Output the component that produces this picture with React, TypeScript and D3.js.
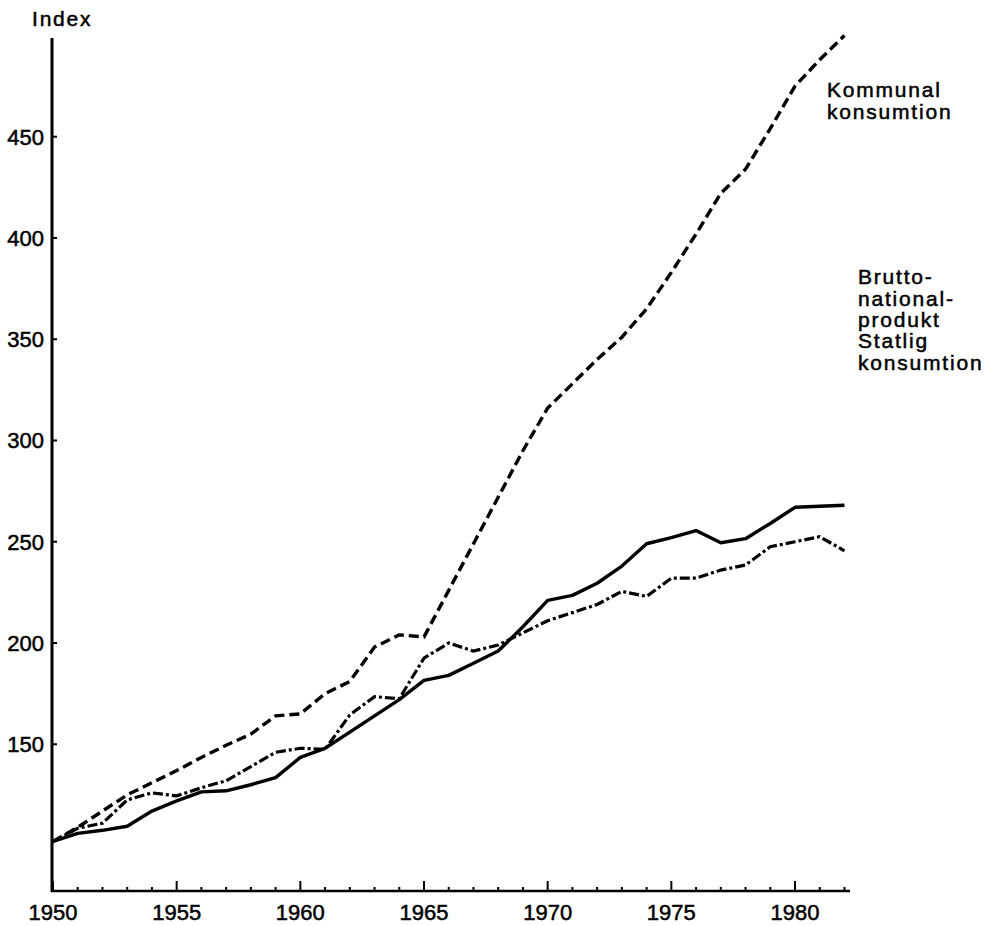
import * as d3 from "d3";
import React from "react";

const W = 1002;
const H = 926;

const years = d3.range(1950, 1983);

// index values (1950 start)
const kommunal = [102, 109, 117, 125, 131, 137, 143.5, 149.5, 155, 164, 165, 175, 181, 198, 204, 203, 226, 249, 272, 295, 316, 328, 340, 351, 365, 383, 402, 422, 434, 454, 475, 488, 500];
const bnp = [102, 106, 107.5, 109.5, 117, 122, 126.5, 127, 130, 133.5, 143.5, 148, 156, 164, 172, 181.5, 184, 190, 196, 208, 221, 223.5, 229.5, 238, 249, 252, 255.5, 249.5, 251.5, 259, 267, 267.5, 268];
const statlig = [102, 108.5, 111, 122.5, 126, 124.5, 128.5, 132, 139, 146, 148, 147.5, 164.5, 173.5, 172.5, 192.5, 200, 196, 199, 205, 211, 215, 219, 225.5, 223, 232, 232, 236, 238.5, 247.5, 250, 252.5, 245.5];

const yTicks = [150, 200, 250, 300, 350, 400, 450];
const xTicks = [1950, 1955, 1960, 1965, 1970, 1975, 1980];

const kommunalLabel = ["Kommunal", "konsumtion"];
const bnpLabel = ["Brutto-", "national-", "produkt"];
const statligLabel = ["Statlig", "konsumtion"];

const font = "'Liberation Sans', Arial, sans-serif";

export default function App() {
  const x = d3.scaleLinear().domain([1950, 1980]).range([53, 795]);
  const y = d3.scaleLinear().domain([100, 450]).range([845.5, 136.7]);
  const axisY = 891;
  const axisTop = 38;
  const xEnd = 850;

  const line = (vals: number[]) =>
    d3
      .line<number>()
      .x((_, i) => x(years[i]))
      .y((v) => y(v))(vals) ?? "";

  // scanned type looks a bit heavier than regular weight
  const txt = { fontSize: 22, fill: "#000", stroke: "#000", strokeWidth: 0.5 };
  const lbl = { ...txt, fontSize: 21, letterSpacing: 1.8 };

  return (
    <svg
      width={W}
      height={H}
      viewBox={`0 0 ${W} ${H}`}
      style={{ position: "absolute", left: 0, top: 0, background: "#fff" }}
      fontFamily={font}
    >
      {/* axes */}
      <line x1={52} x2={52} y1={axisTop} y2={axisY + 1} stroke="#000" strokeWidth={3} />
      <line x1={51} x2={xEnd} y1={axisY} y2={axisY} stroke="#000" strokeWidth={2.5} />

      {yTicks.map((t) => (
        <g key={t}>
          <line x1={52} x2={57} y1={y(t)} y2={y(t)} stroke="#000" strokeWidth={2} />
          <text x={44} y={y(t) + 8} textAnchor="end" {...txt}>
            {t}
          </text>
        </g>
      ))}

      {years.map((yr) => (
        <line
          key={yr}
          x1={x(yr)}
          x2={x(yr)}
          y1={axisY}
          y2={axisY - (yr % 5 === 0 ? 10 : 4)}
          stroke="#000"
          strokeWidth={2}
        />
      ))}
      {xTicks.map((t) => (
        <text key={t} x={x(t)} y={920} textAnchor="middle" {...txt}>
          {t}
        </text>
      ))}

      <text x={32} y={26} {...lbl}>
        Index
      </text>

      {/* series */}
      <path d={line(kommunal)} fill="none" stroke="#000" strokeWidth={3.4} strokeDasharray="10 5" />
      <path d={line(statlig)} fill="none" stroke="#000" strokeWidth={3.2} strokeDasharray="10 3 3 3" />
      <path d={line(bnp)} fill="none" stroke="#000" strokeWidth={3.4} strokeLinejoin="round" />

      {/* labels */}
      <text {...lbl}>
        {kommunalLabel.map((s, i) => (
          <tspan key={s} x={827} y={97 + i * 22}>
            {s}
          </tspan>
        ))}
      </text>
      <text {...lbl}>
        {bnpLabel.map((s, i) => (
          <tspan key={s} x={858} y={284 + i * 21.5}>
            {s}
          </tspan>
        ))}
      </text>
      <text {...lbl}>
        {statligLabel.map((s, i) => (
          <tspan key={s} x={858} y={348 + i * 21.5}>
            {s}
          </tspan>
        ))}
      </text>
    </svg>
  );
}
